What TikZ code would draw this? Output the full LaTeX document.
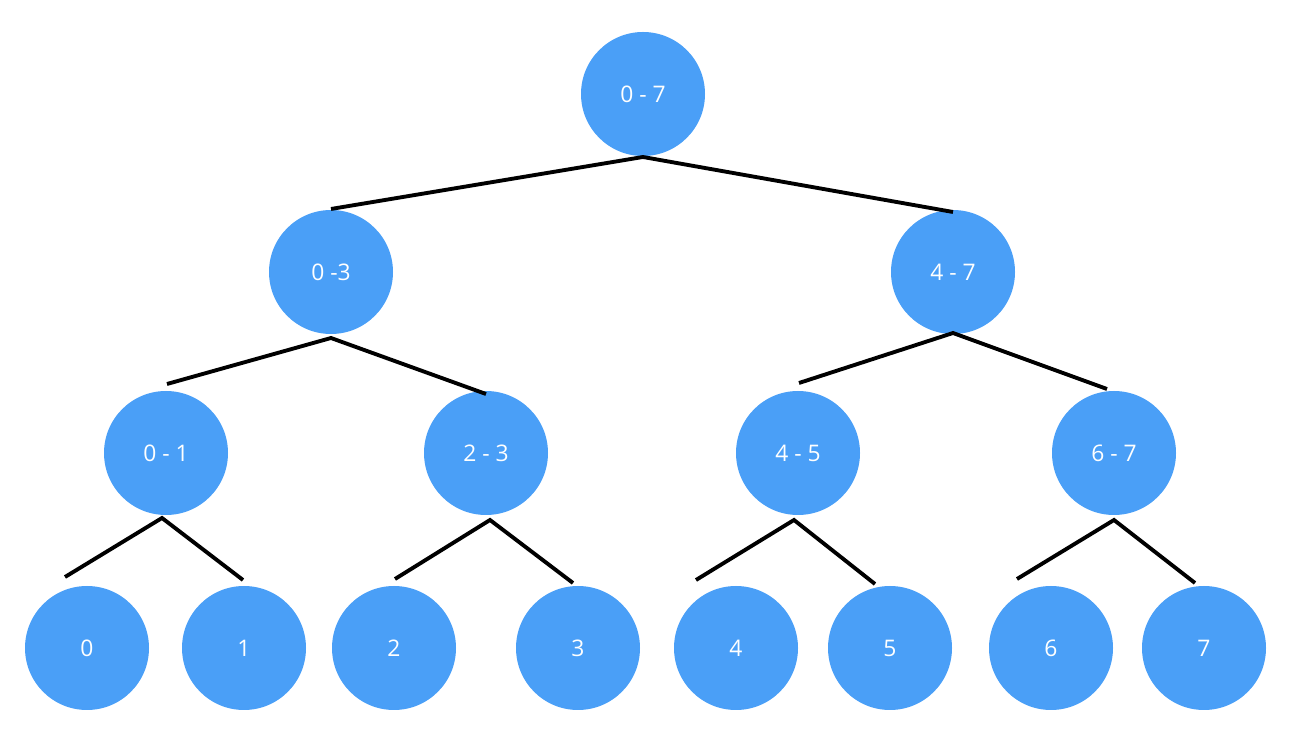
\documentclass[tikz,border=0pt]{standalone}
\usepackage{fontspec}
\setmainfont{Open Sans}
\usetikzlibrary{positioning}
\definecolor{segblue}{HTML}{4A9FF7}
\tikzset{seg/.style={circle, fill=segblue, minimum size=124*0.02cm, inner sep=0pt, text=white, font=\fontsize{13}{15}\selectfont}}
\tikzset{link/.style={line width=2.2pt, black}}

\begin{document}
\begin{tikzpicture}[x=0.02cm, y=-0.02cm]
                        \useasboundingbox (0,0) rectangle (1306,756);
                        \node[seg] (r) at (643, 94) {0 - 7};
                        \node[seg] (l) at (331, 272) {0 -3};
                        \node[seg] (rr) at (953, 272) {4 - 7};
                        \node[seg] (ll) at (166, 453) {0 - 1};
                        \node[seg] (lr) at (486, 453) {2 - 3};
                        \node[seg] (rl) at (798, 453) {4 - 5};
                        \node[seg] (rrr) at (1114, 453) {6 - 7};
                        \node[seg] (n0) at (87, 648) {0};
                        \node[seg] (n1) at (244, 648) {1};
                        \node[seg] (n2) at (394, 648) {2};
                        \node[seg] (n3) at (578, 648) {3};
                        \node[seg] (n4) at (736, 648) {4};
                        \node[seg] (n5) at (890, 648) {5};
                        \node[seg] (n6) at (1051, 648) {6};
                        \node[seg] (n7) at (1204, 648) {7};

                        \coordinate (rb) at (643, 157);
                        \coordinate (lt) at (331, 209);
                        \coordinate (rrt) at (953, 212);
                        \coordinate (lb) at (331, 338);
                        \coordinate (llt) at (167, 384);
                        \coordinate (lrt) at (486, 394);
                        \coordinate (rrb) at (953, 333);
                        \coordinate (rlt) at (799, 383);
                        \coordinate (rrrt) at (1107, 389);
                        \coordinate (llb) at (162, 518);
                        \coordinate (n0t) at (65, 577);
                        \coordinate (n1t) at (243, 580);
                        \coordinate (lrb) at (490, 520);
                        \coordinate (n2t) at (395, 579);
                        \coordinate (n3t) at (573, 583);
                        \coordinate (rlb) at (794, 520);
                        \coordinate (n4t) at (696, 580);
                        \coordinate (n5t) at (875, 584);
                        \coordinate (rrrb) at (1114, 520);
                        \coordinate (n6t) at (1017, 579);
                        \coordinate (n7t) at (1195, 583);

                        \draw[link]
                        (lt) -- (rb) -- (rrt)
                        (llt) -- (lb) -- (lrt)
                        (rlt) -- (rrb) -- (rrrt)
                        (n0t) -- (llb) -- (n1t)
                        (n2t) -- (lrb) -- (n3t)
                        (n4t) -- (rlb) -- (n5t)
                        (n6t) -- (rrrb) -- (n7t);
                    \end{tikzpicture}
\end{document}
